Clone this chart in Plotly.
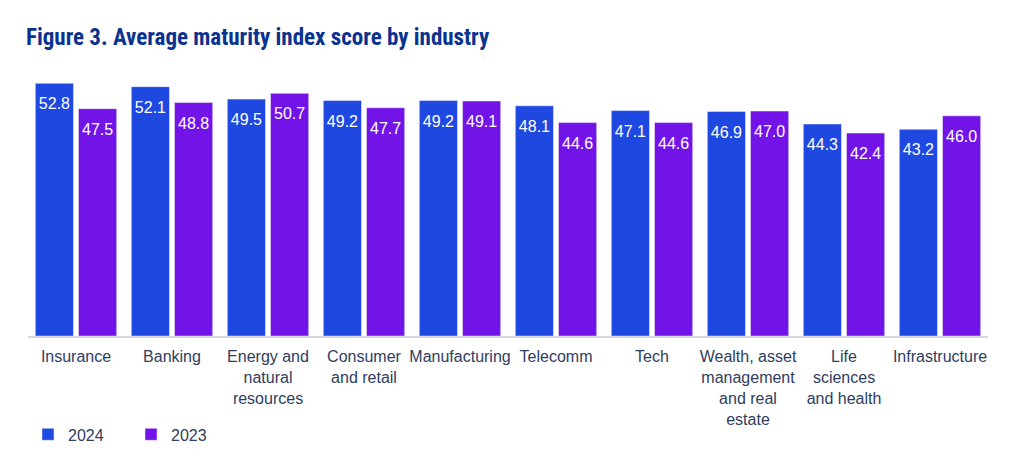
import plotly.graph_objects as go

categories = ["Insurance", "Banking", "Energy and<br>natural<br>resources", "Consumer<br>and retail",
              "Manufacturing", "Telecomm", "Tech", "Wealth, asset<br>management<br>and real<br>estate",
              "Life<br>sciences<br>and health", "Infrastructure"]
values_2024 = [52.8, 52.1, 49.5, 49.2, 49.2, 48.1, 47.1, 46.9, 44.3, 43.2]
values_2023 = [47.5, 48.8, 50.7, 47.7, 49.1, 44.6, 44.6, 47.0, 42.4, 46.0]

C2024 = "#1F48E1"
C2023 = "#7213E8"
FONT = "Arial, Liberation Sans, sans-serif"

fig = go.Figure()
for name, vals, col in [("2024", values_2024, C2024), ("2023", values_2023, C2023)]:
    fig.add_trace(go.Bar(
        x=categories, y=vals, name=name, marker=dict(color=col, line=dict(color="rgba(255,255,255,0.45)", width=1)),
        offsetgroup=name, alignmentgroup="a", hoverinfo="x+y",
    ))
for name, vals in [("2024", values_2024), ("2023", values_2023)]:
    fig.add_trace(go.Scatter(
        x=categories, y=vals, mode="markers+text", text=[f"{v:.1f}" for v in vals],
        textposition="bottom center", textfont=dict(color="white", size=16, family=FONT),
        marker=dict(size=21, color="rgba(0,0,0,0)"), offsetgroup=name, showlegend=False,
        hoverinfo="skip", cliponaxis=False,
    ))

fig.update_layout(
    width=1024, height=459,
    margin=dict(l=28, r=36, t=68, b=123, autoexpand=False),
    plot_bgcolor="white", paper_bgcolor="white",
    barmode="group", bargap=0.10, bargroupgap=0.116,
    scattermode="group", scattergap=0.10,
    title=dict(text="<b>Figure 3. Average maturity index score by industry</b>",
               x=26/1024, xanchor="left", xref="container", y=1-37/459, yanchor="middle", yref="container",
               font=dict(family="Liberation Sans Narrow, Roboto Condensed, Arial Narrow, Roboto, sans-serif", size=23, color="#0A3290")),
    xaxis=dict(showline=True, linecolor="#D6D8DE", linewidth=2, showgrid=False, ticks="",
               tickfont=dict(family=FONT, size=16, color="#2E3D60"), tickangle=0, ticklabelstandoff=5),
    yaxis=dict(range=[0, 56], visible=False, showgrid=False, zeroline=False),
    legend=dict(orientation="h", x=0.0, xanchor="left", y=-0.367, yanchor="middle",
                font=dict(family=FONT, size=16, color="#2E3D60"), entrywidth=58, entrywidthmode="pixels",
                itemwidth=30, traceorder="normal"),
    showlegend=True,
)

fig.write_html("out.html")
